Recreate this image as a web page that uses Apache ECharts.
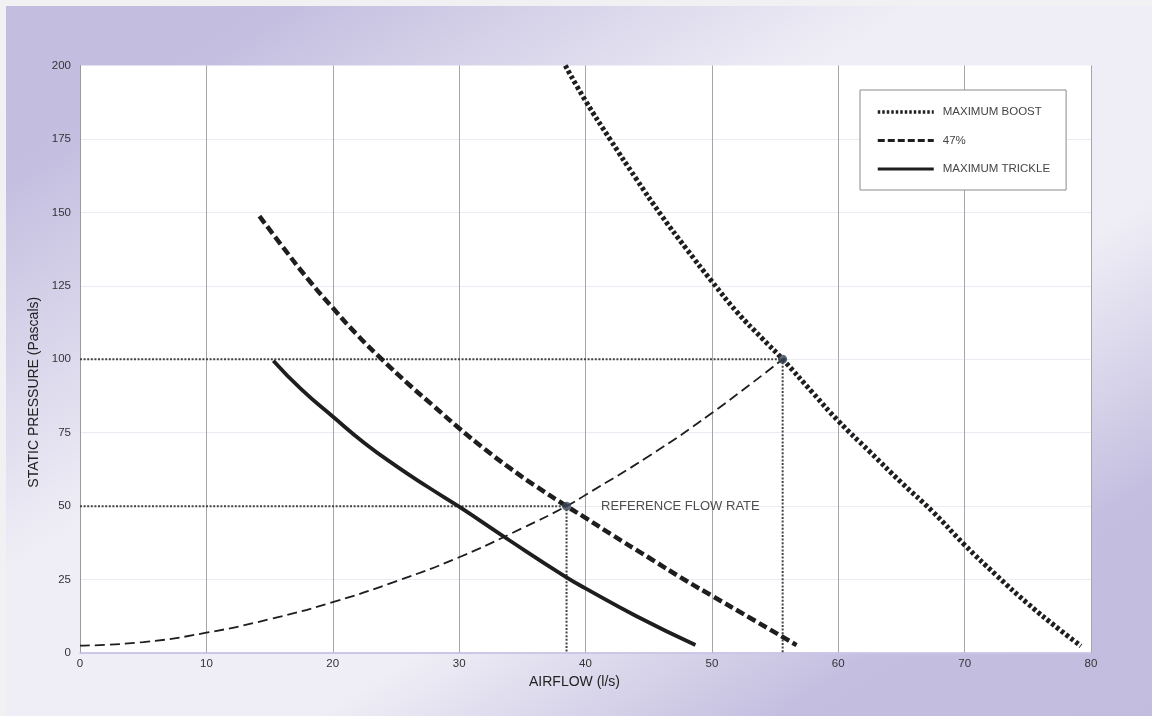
<!DOCTYPE html>
<html><head><meta charset="utf-8">
<script src="https://cdn.jsdelivr.net/npm/echarts@6/dist/echarts.min.js"></script>
<style>
html,body{margin:0;padding:0;background:#f1f1f4;width:1152px;height:716px;overflow:hidden}
#chart{position:absolute;left:6px;top:6px;width:1146px;height:710px}
</style></head><body><div id="chart"></div>
<script>
// ---- data ----
const xAxisName = 'AIRFLOW (l/s)';
const yAxisName = 'STATIC PRESSURE (Pascals)';
const xMin = 0, xMax = 80, xStep = 10;
const yMin = 0, yMax = 200, yStep = 25;

const boostName = 'MAXIMUM BOOST';
const boostX = [38.4, 40, 42, 44, 46, 48, 50, 52, 54, 55.6, 58, 60, 62.5, 65, 67.5, 70, 72.5, 75, 77.5, 79.2];
const boostY = [200, 188, 174.5, 161.5, 149, 137.5, 126.5, 116, 107, 100, 88.5, 79, 68.5, 58, 48, 36.8, 26.5, 16.8, 8, 2.4];

const midName = '47%';
const midX = [14.2, 16, 18, 20, 22, 24, 26, 28, 30, 32, 34, 36, 38.5, 40, 42, 45, 48, 50, 53, 56.7];
const midY = [148.7, 138.5, 127.5, 117.5, 108, 99.5, 91.5, 84, 76.5, 69.5, 63, 57, 50, 46, 40.5, 32.5, 24.5, 19.5, 12, 2.7];

const trickleName = 'MAXIMUM TRICKLE';
const trickleX = [15.3, 17.5, 20, 22.5, 25, 27.5, 30, 34, 38.4, 40, 44, 48.7];
const trickleY = [99.5, 89.8, 80.5, 71.5, 63.7, 56.6, 49.8, 38.3, 26, 22, 12.6, 2.7];

const systemX = [0, 5, 10, 15, 20, 25, 30, 35, 38.5, 40, 45, 50, 55.6];
const systemY = [2.5, 3.7, 6.9, 11.5, 17.3, 24.4, 32.6, 42.5, 50, 53.8, 67, 81.7, 100];

const refX = [38.5, 55.6];
const refY = [50, 100];
const refLabel = 'REFERENCE FLOW RATE';

// ---- build ----
const zip = (xs, ys) => xs.map((x, i) => [x, ys[i]]);
const font = 'Liberation Sans, Arial, sans-serif';
const ink = '#1e1e1e';
const boostDash = [3.5, 2.5], midDash = [9, 4];
const chart = echarts.init(document.getElementById('chart'));

const refSeries = refX.map((x, i) => ({
  type: 'line', silent: true, symbol: 'none', z: 2,
  data: [[xMin, refY[i]], [x, refY[i]], [x, yMin]],
  lineStyle: { color: '#444', width: 2, type: [2, 1.6] }
}));

const bg = new echarts.graphic.LinearGradient(255, -164, 891, 862, [
  { offset: 0, color: '#c2bddf' },
  { offset: 0.13, color: '#c4bfe0' },
  { offset: 0.4, color: '#efeef6' },
  { offset: 0.64, color: '#efeef6' },
  { offset: 0.84, color: '#c4bfe0' },
  { offset: 1, color: '#c2bddf' }
], true);

const curve = (name, xs, ys, width, dash) => ({
  name, type: 'line', smooth: 0.5, symbol: 'none', showSymbol: false, z: 4,
  data: zip(xs, ys),
  itemStyle: { color: ink },
  lineStyle: { color: ink, width, type: dash || 'solid' }
});

chart.setOption({
  backgroundColor: bg,
  animation: false,
  textStyle: { fontFamily: font },
  grid: { left: 74, right: 61, top: 59.5, bottom: 63, show: true, backgroundColor: '#ffffff', borderWidth: 0 },
  legend: {
    data: [
      { name: boostName, lineStyle: { width: 3.5, type: [2.5, 2] } },
      { name: midName, lineStyle: { width: 3, type: [7, 3] } },
      { name: trickleName, lineStyle: { width: 3 } }
    ],
    orient: 'vertical', left: 854, top: 84,
    itemWidth: 56, itemHeight: 14, itemGap: 16.5,
    padding: [16, 16, 15, 16],
    itemStyle: { opacity: 0 },
    backgroundColor: '#ffffff', borderColor: '#8a8a8a', borderWidth: 1,
    textStyle: { fontFamily: font, fontSize: 11.5, color: '#444', padding: [0, 0, 0, 4] }
  },
  xAxis: {
    type: 'value', min: xMin, max: xMax, interval: xStep,
    name: xAxisName, nameLocation: 'middle', nameGap: 15,
    nameTextStyle: { fontFamily: font, fontSize: 14, color: '#222', padding: [0, 22, 0, 0] },
    axisLine: { show: true, lineStyle: { color: '#bdb9e2', width: 1.5 } },
    axisTick: { show: false },
    axisLabel: { fontFamily: font, fontSize: 11.5, color: '#333', margin: 5 },
    splitLine: { show: true, showMinLine: true, showMaxLine: true, lineStyle: { color: '#a6a6a6', width: 1 } }
  },
  yAxis: {
    type: 'value', min: yMin, max: yMax, interval: yStep,
    name: yAxisName, nameLocation: 'middle', nameGap: 36,
    nameTextStyle: { fontFamily: font, fontSize: 14, color: '#222', padding: [0, 66, 0, 0] },
    axisLine: { show: true, lineStyle: { color: '#9a9a9a', width: 1 } },
    axisTick: { show: false },
    axisLabel: { fontFamily: font, fontSize: 11.5, color: '#333', margin: 9 },
    splitLine: { show: true, showMaxLine: false, lineStyle: { color: '#ebebf4', width: 1 } }
  },
  series: [
    ...refSeries,
    {
      name: 'system', type: 'line', smooth: 0.5, symbol: 'none', z: 3, silent: true,
      data: zip(systemX, systemY),
      lineStyle: { color: ink, width: 1.8, type: [10, 5] }
    },
    curve(boostName, boostX, boostY, 5, boostDash),
    curve(midName, midX, midY, 4.5, midDash),
    curve(trickleName, trickleX, trickleY, 3.8),
    {
      name: 'ref', type: 'scatter', z: 6, silent: true,
      symbolSize: 9,
      itemStyle: { color: '#3a4657' },
      data: zip(refX, refY).map((p, i) => ({
        value: p,
        label: i === 0 ? {
          show: true, position: 'right', distance: 30, formatter: refLabel,
          fontFamily: font, fontSize: 13, color: '#222'
        } : { show: false }
      }))
    }
  ]
});
</script></body></html>
